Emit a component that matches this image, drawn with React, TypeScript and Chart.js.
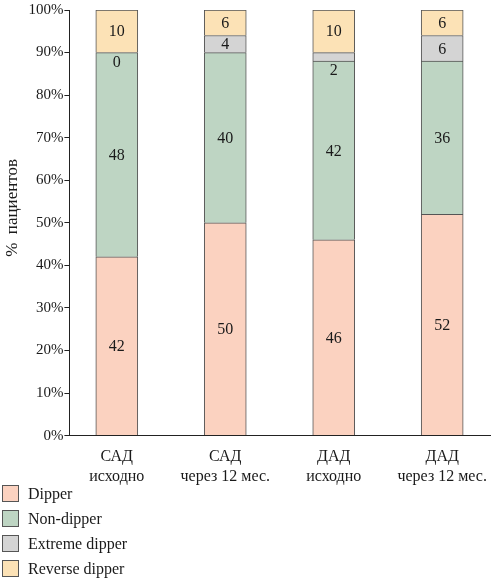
import { useEffect, useRef } from "react";
import { Chart, registerables } from "chart.js";

Chart.register(...registerables);

const categories = [
  ["САД", "исходно"],
  ["САД", "через 12 мес."],
  ["ДАД", "исходно"],
  ["ДАД", "через 12 мес."],
];

const dipper = [42, 50, 46, 52];
const nonDipper = [48, 40, 42, 36];
const extremeDipper = [0, 4, 2, 6];
const reverseDipper = [10, 6, 10, 6];

const seriesNames = ["Dipper", "Non-dipper", "Extreme dipper", "Reverse dipper"];
const seriesColors = ["#FBD2C0", "#BED5C3", "#D4D4D4", "#FCE2B6"];

const FONT = '"Liberation Serif", "DejaVu Serif", serif';
const TEXT = "#1a1a1a";
const EDGE = "#555";

// numbers inside the segments; tiny segments get the number just below
const valueLabels = {
  id: "valueLabels",
  afterDatasetsDraw(chart: Chart) {
    const ctx = chart.ctx;
    ctx.save();
    ctx.font = `16px ${FONT}`;
    ctx.fillStyle = TEXT;
    ctx.textAlign = "center";
    chart.data.datasets.forEach((ds, di) => {
      const meta = chart.getDatasetMeta(di);
      meta.data.forEach((el: any, i) => {
        const v = (ds.data[i] as any).y as number;
        const { x, y, base } = el.getProps(["x", "y", "base"], true);
        if (v < 4) {
          ctx.textBaseline = "top";
          ctx.fillText(String(v), x, base + 2);
        } else {
          ctx.textBaseline = "middle";
          ctx.fillText(String(v), x, (y + base) / 2 + 1);
        }
      });
    });
    ctx.restore();
  },
};

export default function App() {
  const canvasRef = useRef<HTMLCanvasElement>(null);

  useEffect(() => {
    document.body.style.margin = "0";
    if (!canvasRef.current) return;
    const ctx = canvasRef.current.getContext("2d");
    if (!ctx) return;

    const series = [dipper, nonDipper, extremeDipper, reverseDipper];

    const chart = new Chart(ctx, {
      type: "bar",
      data: {
        datasets: series.map((vals, si) => ({
          label: seriesNames[si],
          data: vals.map((v, i) => ({ x: i, y: v })),
          backgroundColor: seriesColors[si],
          borderColor: EDGE,
          borderWidth: 1,
          barThickness: 42,
        })),
      },
      options: {
        responsive: false,
        animation: false,
        layout: { padding: 0 },
        plugins: {
          legend: { display: false },
          tooltip: { enabled: false },
        },
        scales: {
          x: {
            type: "linear",
            stacked: true,
            offset: false,
            bounds: "ticks",
            min: -0.437,
            max: 3.45,
            afterBuildTicks: (axis: any) => {
              axis.ticks = categories.map((_, i) => ({ value: i }));
            },
            ticks: {
              font: { family: FONT, size: 16 },
              color: TEXT,
              padding: 4,
              maxRotation: 0,
              autoSkip: false,
              callback: (v: any) => categories[v] ?? "",
            },
            grid: { display: false },
            border: { display: true, color: "#222", width: 1 },
          },
          y: {
            stacked: true,
            min: 0,
            max: 100,
            ticks: {
              stepSize: 10,
              font: { family: FONT, size: 15 },
              color: TEXT,
              padding: 1,
              callback: (v: any) => `${v}%`,
            },
            grid: {
              drawOnChartArea: false,
              drawTicks: true,
              tickLength: 5,
              color: "#222",
            },
            border: { display: true, color: "#222", width: 1 },
            title: {
              display: true,
              text: "       %  пациентов",
              font: { family: FONT, size: 17 },
              color: TEXT,
              padding: { top: 2, bottom: 5 },
            },
          },
        },
      },
      plugins: [valueLabels],
    });

    return () => {
      chart.destroy();
    };
  }, []);

  return (
    <div style={{ position: "relative", width: 491, height: 580, fontFamily: FONT, color: TEXT }}>
      <canvas ref={canvasRef} width={491} height={490} style={{ display: "block" }} />
      <div style={{ position: "absolute", left: 2, top: 481 }}>
        {seriesNames.map((name, i) => (
          <div
            key={name}
            style={{ display: "flex", alignItems: "center", height: 25, fontSize: 16 }}
          >
            <span
              style={{
                display: "inline-block",
                width: 15,
                height: 15,
                border: `1px solid ${EDGE}`,
                background: seriesColors[i],
                marginRight: 9,
              }}
            />
            {name}
          </div>
        ))}
      </div>
    </div>
  );
}
